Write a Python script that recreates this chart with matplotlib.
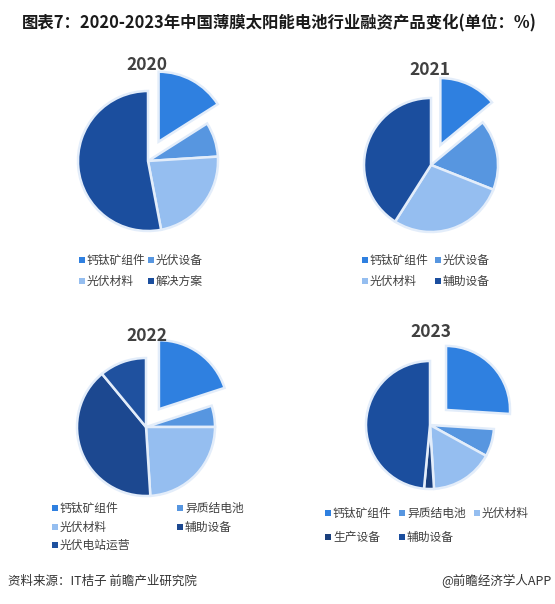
import matplotlib.pyplot as plt

plt.rcParams['font.family'] = ['Noto Sans CJK SC', 'DejaVu Sans']

# data (%)
years = ["2020", "2021", "2022", "2023"]
labels_2020 = ["钙钛矿组件", "光伏设备", "光伏材料", "解决方案"]
values_2020 = [16, 8, 23, 53]
labels_2021 = ["钙钛矿组件", "光伏设备", "光伏材料", "辅助设备"]
values_2021 = [14, 17, 28, 41]
labels_2022 = ["钙钛矿组件", "异质结电池", "光伏材料", "辅助设备", "光伏电站运营"]
values_2022 = [20, 5, 24, 40, 11]
labels_2023 = ["钙钛矿组件", "异质结电池", "光伏材料", "生产设备", "辅助设备"]
values_2023 = [26, 7, 16, 2.5, 48.5]

c_bright = "#2F80E0"
c_mid = "#5796E0"
c_light = "#95BEF0"
c_dark = "#1B4E9E"
c_navy = "#1A3F7C"
colors_2020 = [c_bright, c_mid, c_light, c_dark]
colors_2021 = [c_bright, c_mid, c_light, c_dark]
colors_2022 = [c_bright, c_mid, c_light, "#1C4890", "#1F519F"]
colors_2023 = [c_bright, c_mid, c_light, c_navy, c_dark]

W, H = 555, 604
fig = plt.figure(figsize=(W / 100, H / 100), dpi=100)
ax = fig.add_axes([0, 0, 1, 1])

panels = [
    # values, labels, colors, center, radius, year pos, legend rows (y), legend cols (x)
    (values_2020, labels_2020, colors_2020, (148, 161), 70, (147, 65), [260, 281], [82, 151]),
    (values_2021, labels_2021, colors_2021, (431, 165), 67, (430, 70), [260, 281], [365, 438]),
    (values_2022, labels_2022, colors_2022, (146, 427), 69, (147, 336), [508, 527, 545], [55, 180]),
    (values_2023, labels_2023, colors_2023, (430, 425), 64, (431, 332), [513, 537], [328, 402, 477]),
]

for year, (vals, labs, cols, center, r, ypos, rows, xs) in zip(years, panels):
    # explode is in data units (pixels here)
    explode = [22] + [0] * (len(vals) - 1)
    # y axis is inverted, so counterclock=True draws clockwise on screen
    ax.pie(vals, colors=cols, center=center, radius=r, startangle=-90,
           counterclock=True, explode=explode, frame=True,
           wedgeprops=dict(edgecolor="#E3EDFA", linewidth=1.8))
    ax.text(ypos[0], ypos[1], year, ha="center", va="center", fontsize=12.5,
            fontweight="bold", color="#404040")
    ncol = len(xs)
    for i, (lab, col) in enumerate(zip(labs, cols)):
        x = xs[i % ncol]
        y = rows[i // ncol]
        ax.scatter([x], [y], marker="s", s=14, color=col, linewidths=0)
        ax.text(x + 5, y, lab, ha="left", va="center", fontsize=8.5, color="#404040")

ax.set_xlim(0, W)
ax.set_ylim(H, 0)
ax.set_aspect("auto")
ax.axis("off")

ax.text(22, 23, "图表7：2020-2023年中国薄膜太阳能电池行业融资产品变化(单位：%)",
        ha="left", va="center", fontsize=11.8, fontweight="bold", color="#1a1a1a")
ax.text(8, 581, "资料来源：IT桔子 前瞻产业研究院", ha="left", va="center",
        fontsize=9, color="#333333")
ax.text(552, 581, "@前瞻经济学人APP", ha="right", va="center",
        fontsize=9, color="#333333")

fig.savefig("out.png", dpi=100)
